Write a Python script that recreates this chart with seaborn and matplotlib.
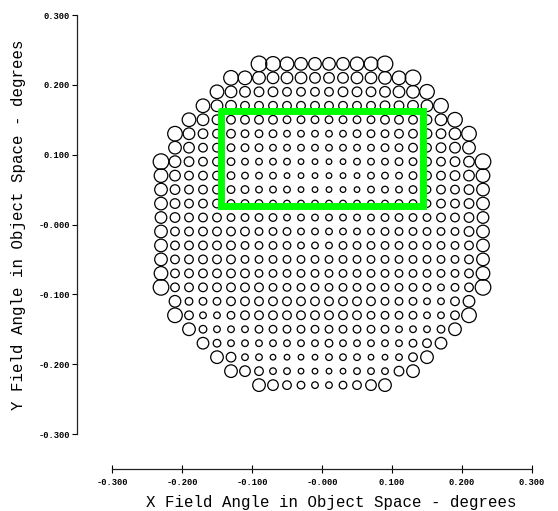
import numpy as np
import pandas as pd
import matplotlib
matplotlib.use("Agg")
import matplotlib.pyplot as plt
import seaborn as sns

# field positions of the sampled grid (degrees)
x_fields = [-0.23, -0.21, -0.19, -0.17, -0.15, -0.13, -0.11, -0.09, -0.07, -0.05, -0.03, -0.01,
            0.01, 0.03, 0.05, 0.07, 0.09, 0.11, 0.13, 0.15, 0.17, 0.19, 0.21, 0.23]
y_fields = [0.23, 0.21, 0.19, 0.17, 0.15, 0.13, 0.11, 0.09, 0.07, 0.05, 0.03, 0.01,
            -0.01, -0.03, -0.05, -0.07, -0.09, -0.11, -0.13, -0.15, -0.17, -0.19, -0.21, -0.23]

# spot diameter per field point (base-36 digit, '.' = no field point), top row first
# left half | right half
spot_rows = [
    ".......gfedd|ddeeg.......",
    ".....fedcccb|bbccdeg.....",
    "....ecbaa999|9aaabcdf....",
    "...ecb999999|9999aabcf...",
    "..eca9999888|8888999acf..",
    ".fca99888777|7788899aacf.",
    ".db998887777|77778899abd.",
    "gca998777766|667778899abg",
    "eb9998777666|666777899abe",
    "da9998877766|6667778899ad",
    "da9998887777|7777788899ad",
    "ca9998888777|7777888899ac",
    "d99999988877|7777888888ad",
    "d99999888877|78888888889d",
    "d99999888888|88888888889d",
    "e99999988888|88888888889e",
    "g99999998888|88888888789g",
    ".c8889999999|9999888779c.",
    ".f9778999999|9998888779f.",
    "..d877788888|888887778d..",
    "...c87777777|87777789c...",
    "....da776666|7776679d....",
    ".....db97766|66777ad.....",
    ".......db987|789bd.......",
]

tick_values = [-0.3, -0.2, -0.1, 0.0, 0.1, 0.2, 0.3]
tick_labels = ["-0.300", "-0.200", "-0.100", "-0.000", "0.100", "0.200", "0.300"]

# selected field region
box_x = [-0.144, 0.144, 0.144, -0.144, -0.144]
box_y = [0.163, 0.163, 0.027, 0.027, 0.163]

records = []
for yv, row in zip(y_fields, spot_rows):
    row = row.replace("|", "")
    for xv, ch in zip(x_fields, row):
        if ch != ".":
            records.append((xv, yv, int(ch, 36)))
df = pd.DataFrame(records, columns=["x", "y", "d"])

DPI = 100
px2pt = 72.0 / DPI
df["area"] = ((df["d"] - 0.4) * px2pt) ** 2

sns.set_style("ticks")
plt.rcParams["font.family"] = ["Liberation Mono", "DejaVu Sans Mono"]

fig = plt.figure(figsize=(5.58, 5.11), dpi=DPI)
ax = fig.add_axes([112 / 558, 77 / 511, 420 / 558, 419 / 511])

amin, amax = df["area"].min(), df["area"].max()
sns.scatterplot(data=df, x="x", y="y", size="area", sizes=(amin, amax),
                size_norm=(amin, amax), legend=False, facecolor="none",
                edgecolor="black", linewidth=0.9, ax=ax, zorder=2, clip_on=False)

ax.plot(box_x, box_y, color="#00ff00", lw=5.0, solid_joinstyle="miter", zorder=3)

ax.set_xlim(-0.3, 0.3)
ax.set_ylim(-0.3, 0.3)
ax.set_xticks(tick_values)
ax.set_xticklabels(tick_labels)
ax.set_yticks(tick_values)
ax.set_yticklabels(tick_labels)

sns.despine(ax=ax, offset=35 * px2pt)
for side in ["left", "bottom"]:
    ax.spines[side].set_color("#222222")
    ax.spines[side].set_linewidth(0.9)

ax.tick_params(axis="y", direction="out", length=3.5, width=0.8, pad=1.5, colors="black")
ax.tick_params(axis="x", direction="inout", length=6, width=0.8, pad=3.5, colors="black")
for lab in ax.get_xticklabels() + ax.get_yticklabels():
    lab.set_fontsize(6.3)
    lab.set_fontweight("bold")

ax.set_xlabel("X Field Angle in Object Space - degrees", fontsize=11.3, color="black")
ax.set_ylabel("Y Field Angle in Object Space - degrees", fontsize=11.3, color="black")
ax.xaxis.label.set_va("center")
ax.yaxis.label.set_va("center")
ax.xaxis.set_label_coords((331 - 112) / 420, (434 - 502) / 419)
ax.yaxis.set_label_coords((18.5 - 112) / 420, 0.5)

fig.savefig("out.png", dpi=DPI)
